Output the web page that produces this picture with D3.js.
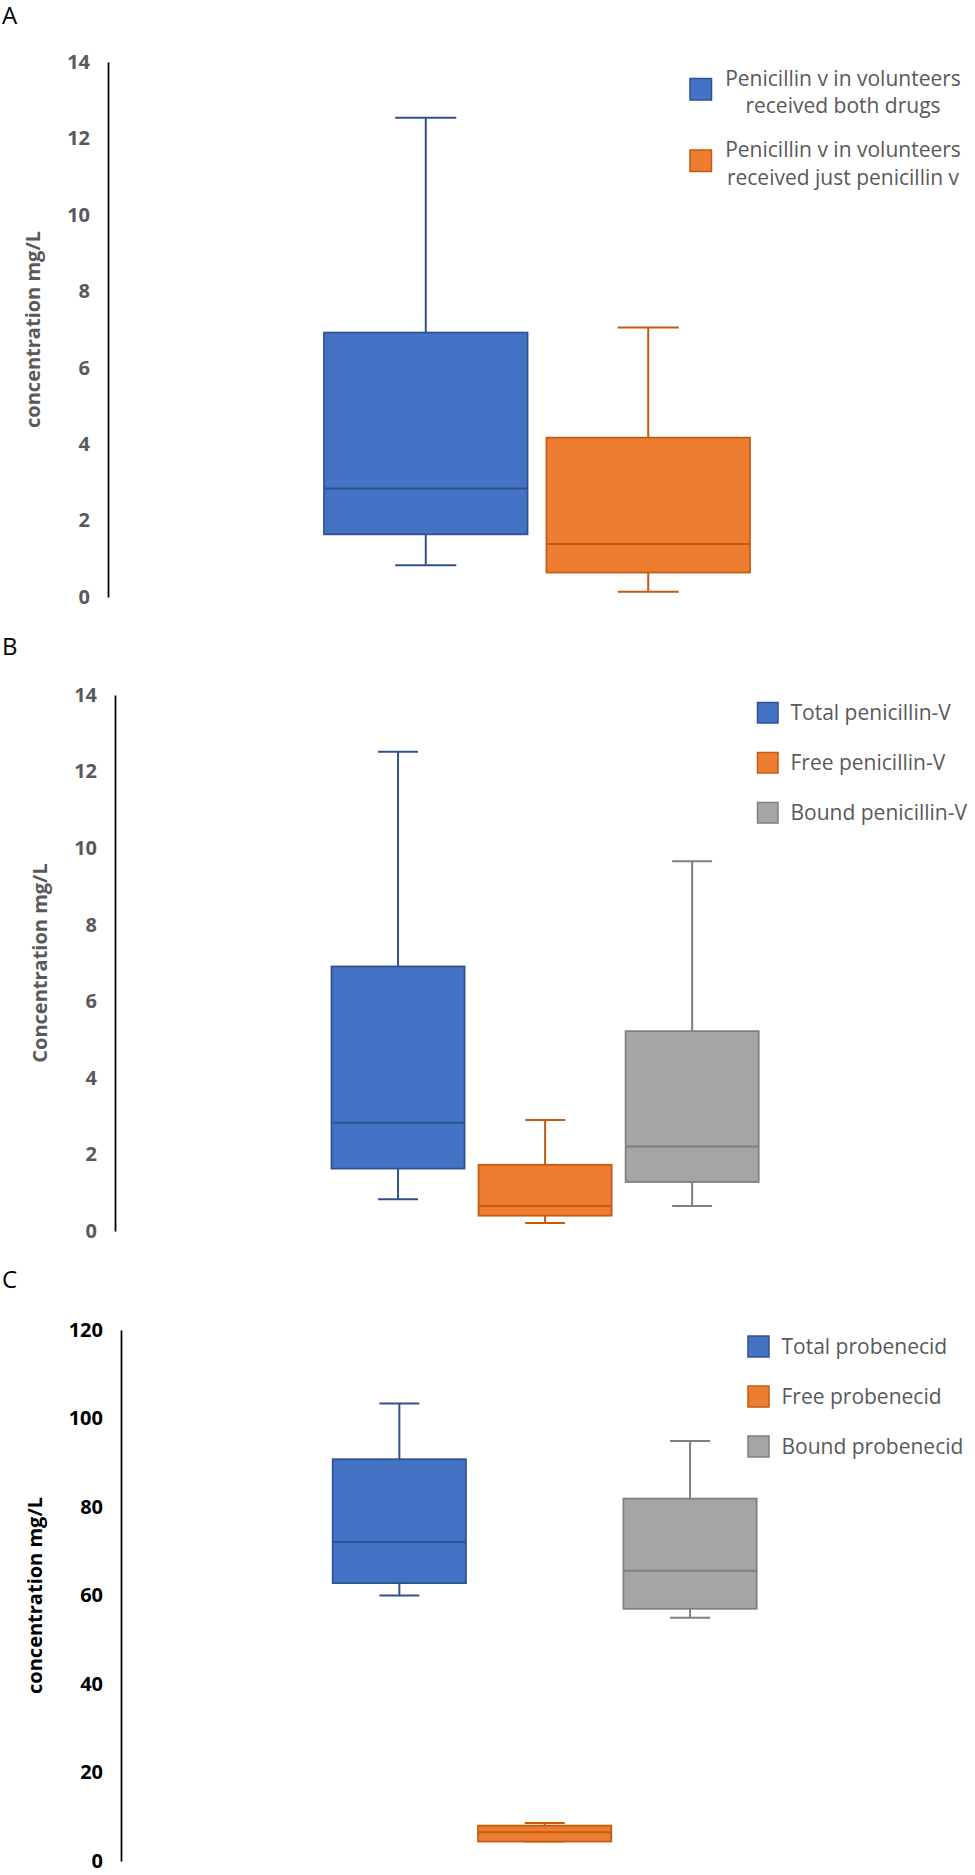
<!DOCTYPE html>
<html>
<head>
<meta charset="utf-8">
<script src="https://cdn.jsdelivr.net/npm/d3@7"></script>
<style>
  body { margin: 0; background: #fff; }
  svg { display: block; font-family: "Open Sans", sans-serif; }
</style>
</head>
<body>
<div id="chart"></div>
<script>
// Panel A - penicillin v, two groups of volunteers
const seriesA = ["Penicillin v in volunteers|received both drugs", "Penicillin v in volunteers|received just penicillin v"];
const minA = [0.83, 0.14];
const q1A = [1.64, 0.64];
const medianA = [2.84, 1.39];
const q3A = [6.92, 4.17];
const maxA = [12.54, 7.05];
const ticksA = [0, 2, 4, 6, 8, 10, 12, 14];

// Panel B - total / free / bound penicillin-V
const seriesB = ["Total penicillin-V", "Free penicillin-V", "Bound penicillin-V"];
const minB = [0.83, 0.21, 0.65];
const q1B = [1.63, 0.40, 1.28];
const medianB = [2.83, 0.65, 2.21];
const q3B = [6.91, 1.73, 5.22];
const maxB = [12.52, 2.90, 9.66];
const ticksB = [0, 2, 4, 6, 8, 10, 12, 14];

// Panel C - total / free / bound probenecid
const seriesC = ["Total probenecid", "Free probenecid", "Bound probenecid"];
const minC = [60.0, 4.4, 55.0];
const q1C = [62.8, 4.4, 57.0];
const medianC = [72.1, 6.5, 65.6];
const q3C = [90.8, 8.0, 81.9];
const maxC = [103.4, 8.6, 94.9];
const ticksC = [0, 20, 40, 60, 80, 100, 120];

const fills = ["#4472C4", "#ED7D31", "#A5A5A5"];
const strokes = ["#2F528F", "#C55A11", "#7F7F7F"];

const svg = d3.select("#chart")
    .append("svg")
    .attr("width", 975)
    .attr("height", 1875);

// layout of each panel (pixel positions only)
const panels = [
    { letter: "A", letterY: 24, series: seriesA, min: minA, q1: q1A, med: medianA, q3: q3A, max: maxA,
      ticks: ticksA, top: 62, bottom: 597, axisX: 108, xRange: [324, 750], pad: 0.085,
      yLabel: "concentration mg/L", labelX: 33, textColor: "#595959",
      legendX: 690, legendY: 78.5, legendStep: 71.5, legendSize: 21.5, twoLine: true },
    { letter: "B", letterY: 655, series: seriesB, min: minB, q1: q1B, med: medianB, q3: q3B, max: maxB,
      ticks: ticksB, top: 695, bottom: 1231, axisX: 115, xRange: [331.5, 758.7], pad: 0.095,
      yLabel: "Concentration mg/L", labelX: 40, textColor: "#595959",
      legendX: 757.5, legendY: 702.5, legendStep: 50, legendSize: 20.5, twoLine: false },
    { letter: "C", letterY: 1288, series: seriesC, min: minC, q1: q1C, med: medianC, q3: q3C, max: maxC,
      ticks: ticksC, top: 1330, bottom: 1861, axisX: 121, xRange: [332.7, 756.7], pad: 0.083,
      yLabel: "concentration mg/L", labelX: 35, textColor: "#000000",
      legendX: 748, legendY: 1336, legendStep: 50, legendSize: 21, twoLine: false }
];

panels.forEach(p => {
    const g = svg.append("g");

    // panel letter
    g.append("text")
        .attr("x", 2)
        .attr("y", p.letterY)
        .attr("font-size", 24)
        .attr("fill", "#000")
        .text(p.letter);

    const y = d3.scaleLinear()
        .domain([d3.min(p.ticks), d3.max(p.ticks)])
        .range([p.bottom, p.top]);

    const x = d3.scaleBand()
        .domain(p.series)
        .range(p.xRange)
        .paddingInner(p.pad)
        .paddingOuter(0);

    // y axis: line plus labels, no tick marks
    const axis = g.append("g")
        .attr("transform", `translate(${p.axisX},0)`)
        .call(d3.axisLeft(y).tickValues(p.ticks).tickSize(0).tickPadding(18));
    axis.select(".domain")
        .attr("stroke", "#000")
        .attr("stroke-width", 1.75);
    axis.selectAll("text")
        .attr("font-family", "Open Sans")
        .attr("font-size", 20)
        .attr("font-weight", "bold")
        .attr("fill", p.textColor);

    g.append("text")
        .attr("transform", `translate(${p.labelX},${(p.top + p.bottom) / 2}) rotate(-90)`)
        .attr("text-anchor", "middle")
        .attr("dy", "0.35em")
        .attr("font-size", 20)
        .attr("font-weight", "bold")
        .attr("fill", p.textColor)
        .text(p.yLabel);

    const data = p.series.map((s, i) => ({
        name: s, i: i, min: p.min[i], q1: p.q1[i], med: p.med[i], q3: p.q3[i], max: p.max[i]
    }));

    const bw = x.bandwidth();
    const cap = bw * 0.15;
    const boxes = g.selectAll(".box")
        .data(data)
        .enter()
        .append("g")
        .attr("class", "box");

    // whiskers
    boxes.append("line")
        .attr("x1", d => x(d.name) + bw / 2)
        .attr("x2", d => x(d.name) + bw / 2)
        .attr("y1", d => y(d.max))
        .attr("y2", d => y(d.min))
        .attr("stroke", d => strokes[d.i])
        .attr("stroke-width", 2);
    boxes.selectAll(".cap")
        .data(d => [{ d: d, v: d.max }, { d: d, v: d.min }])
        .enter()
        .append("line")
        .attr("class", "cap")
        .attr("x1", c => x(c.d.name) + bw / 2 - cap)
        .attr("x2", c => x(c.d.name) + bw / 2 + cap)
        .attr("y1", c => y(c.v))
        .attr("y2", c => y(c.v))
        .attr("stroke", c => strokes[c.d.i])
        .attr("stroke-width", 2);

    // box
    boxes.append("rect")
        .attr("x", d => x(d.name))
        .attr("y", d => y(d.q3))
        .attr("width", bw)
        .attr("height", d => y(d.q1) - y(d.q3))
        .attr("fill", d => fills[d.i])
        .attr("stroke", d => strokes[d.i])
        .attr("stroke-width", 1.75);

    // median
    boxes.append("line")
        .attr("x1", d => x(d.name))
        .attr("x2", d => x(d.name) + bw)
        .attr("y1", d => y(d.med))
        .attr("y2", d => y(d.med))
        .attr("stroke", d => strokes[d.i])
        .attr("stroke-width", 2);

    // legend
    const leg = g.selectAll(".legend")
        .data(data)
        .enter()
        .append("g")
        .attr("class", "legend")
        .attr("transform", d => `translate(${p.legendX},${p.legendY + d.i * p.legendStep})`);
    leg.append("rect")
        .attr("width", p.legendSize)
        .attr("height", p.legendSize)
        .attr("fill", d => fills[d.i])
        .attr("stroke", d => strokes[d.i])
        .attr("stroke-width", 1.5);

    if (p.twoLine) {
        const t = leg.append("text")
            .attr("text-anchor", "middle")
            .attr("font-size", 21)
            .attr("fill", "#595959");
        t.selectAll("tspan")
            .data(d => d.name.split("|"))
            .enter()
            .append("tspan")
            .attr("x", 153)
            .attr("y", (s, k) => 7 + k * 27.5)
            .text(s => s);
    } else {
        leg.append("text")
            .attr("x", p.legendSize + 12.5)
            .attr("y", p.legendSize / 2)
            .attr("dy", "0.35em")
            .attr("font-size", 21)
            .attr("fill", "#595959")
            .text(d => d.name);
    }
});
</script>
</body>
</html>
